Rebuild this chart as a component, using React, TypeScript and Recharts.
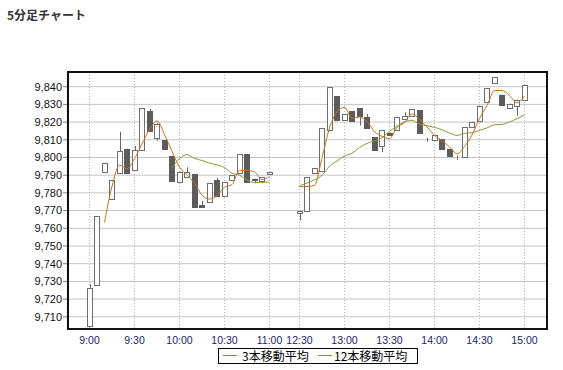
import React from 'react';
import { ComposedChart, Bar, Line, XAxis, YAxis, CartesianGrid } from 'recharts';

// slot index of each 5-minute bar (25-27 = lunch gap)
const slots: number[] = Array.from({ length: 59 }, (_, k) => k);

const opens: (number | null)[] = [
  9705, 9728, 9792, 9776.5, 9791, 9805, 9793, 9804, 9826, 9811,
  9810, 9801, 9786, 9789, 9790.5, 9773, 9775, 9787.5, 9778, 9787,
  9791, 9802, 9788, 9786.5, 9790.5, null, null, null, 9768.5, 9770,
  9791, 9792.5, 9815.5, 9834.7, 9821.2, 9826, 9828, 9823, 9811.4, 9806.5,
  9814, 9815.4, 9822, 9823.6, 9826.8, 9811.2, 9810, 9810.4, 9804.8, 9801,
  9800.4, 9817.4, 9820.4, 9831.2, 9842, 9835.5, 9828, 9829, 9832.3,
];
const highs: (number | null)[] = [
  9728.5, 9767, 9797, 9787, 9814.5, 9805, 9806.5, 9828, 9827.5, 9819.5,
  9810, 9801, 9792, 9794.5, 9790.5, 9775.5, 9785.5, 9788.5, 9786, 9790,
  9802, 9802, 9788, 9788.8, 9791.8, null, null, null, 9770, 9789,
  9794, 9816.5, 9839.7, 9834.7, 9824.6, 9826, 9828, 9824.5, 9811.4, 9815.5,
  9814, 9823, 9825.5, 9827.2, 9826.8, 9811.2, 9812.7, 9810.4, 9804.8, 9801,
  9817, 9820.2, 9829, 9839, 9845.3, 9835.5, 9830.4, 9832.7, 9840.8,
];
const lows: (number | null)[] = [
  9705, 9728, 9792, 9776.5, 9791, 9791, 9793, 9804, 9815, 9809.5,
  9805, 9786.5, 9786, 9789, 9772, 9772, 9775, 9778, 9778, 9787,
  9791, 9786, 9785.5, 9785.5, 9790.5, null, null, null, 9764.5, 9770,
  9791, 9792.5, 9815.5, 9821, 9821.2, 9820.6, 9818, 9816.4, 9804, 9803,
  9812.5, 9815.4, 9822, 9823.6, 9813.6, 9809, 9810, 9804.8, 9800.6, 9798.6,
  9800.4, 9817.4, 9820.4, 9831.2, 9842, 9829.5, 9828, 9823.6, 9832.3,
];
const closes: (number | null)[] = [
  9726, 9767, 9797, 9787, 9803.5, 9791, 9804, 9828, 9815, 9819,
  9805, 9786.5, 9792, 9792, 9772, 9772, 9785.5, 9778, 9786, 9790,
  9802, 9786, 9787.3, 9788.8, 9791.8, null, null, null, 9770, 9789,
  9794, 9816.5, 9839.7, 9821, 9824.6, 9820.6, 9823.6, 9816.4, 9804, 9815.5,
  9812.5, 9823, 9823.6, 9827.2, 9813.6, 9811.2, 9812.7, 9804.8, 9800.6, 9801,
  9817, 9820.2, 9829, 9839, 9845.3, 9829.5, 9830.4, 9832.7, 9840.8,
];
const ma3: (number | null)[] = [
  null, null, 9763.3, 9783.7, 9795.7, 9793.7, 9799.3, 9807.7, 9815.7, 9820.7,
  9813, 9803.5, 9794.5, 9790.2, 9785.3, 9778.7, 9776.5, 9778.5, 9783.2, 9784.7,
  9792.7, 9792.7, 9791.8, 9787.4, 9789.3, null, null, null, 9783.5, 9783.6,
  9784.3, 9799.8, 9816.7, 9825.7, 9828.4, 9822.1, 9822.9, 9820.2, 9814.7, 9812,
  9810.7, 9817, 9819.7, 9824.6, 9821.5, 9817.3, 9812.5, 9809.6, 9806, 9802.1,
  9806.2, 9812.7, 9822.1, 9829.4, 9837.8, 9837.9, 9835.1, 9830.9, 9834.6,
];
const ma12: (number | null)[] = [
  null, null, null, null, null, null, null, null, null, null,
  null, 9794.0, 9799.5, 9801.6, 9799.5, 9798.3, 9796.8, 9795.8, 9794.3, 9791.1,
  9790, 9787.3, 9785.8, 9786, 9786, null, null, null, 9784.1, 9785.5,
  9787.4, 9790, 9795.1, 9798, 9800.9, 9802.4, 9805.6, 9808, 9809.3, 9811.2,
  9814.8, 9817.6, 9820.1, 9821, 9818.8, 9818, 9817, 9815.7, 9813.8, 9812.5,
  9813.6, 9814, 9815.3, 9816.7, 9818.5, 9818.7, 9820.1, 9821.9, 9824.2,
];

const xTickSlots: number[] = [0, 6, 12, 18, 24, 28, 34, 40, 46, 52, 58];
const xTickLabels: string[] = ['9:00', '9:30', '10:00', '10:30', '11:00', '12:30', '13:00', '13:30', '14:00', '14:30', '15:00'];
const yTicks: number[] = [9710, 9720, 9730, 9740, 9750, 9760, 9770, 9780, 9790, 9800, 9810, 9820, 9830, 9840];

const seriesNames = ['3本移動平均', '12本移動平均'];
const MA3_COLOR = '#c8701e';
const MA12_COLOR = '#8a9a30';

const data = slots.map((s, k) => ({
  i: s,
  open: opens[k],
  high: highs[k],
  low: lows[k],
  close: closes[k],
  range: lows[k] != null && highs[k] != null ? [lows[k], highs[k]] : null,
  ma3: ma3[k],
  ma12: ma12[k],
}));

const Candle = (props: any) => {
  const { x, y, width, height, payload } = props;
  if (!payload || payload.open == null) return null;
  const { open, close, high, low } = payload;
  const span = high - low;
  const py = (v: number) => (span > 0 ? y + ((high - v) / span) * height : y);
  const cx = Math.round(x + width / 2) + 0.5;
  const up = close >= open;
  const top = Math.round(py(Math.max(open, close))) + 0.5;
  const bot = Math.round(py(Math.min(open, close))) + 0.5;
  const bx = Math.round(x) + 0.5;
  return (
    <g>
      <line x1={cx} x2={cx} y1={y} y2={y + height} stroke="#666" strokeWidth={1} />
      <rect
        x={bx}
        y={top}
        width={width - 1}
        height={Math.max(bot - top, 0)}
        fill={up ? '#ffffff' : '#5c5c5c'}
        stroke={up ? '#6e6e6e' : '#5c5c5c'}
        strokeWidth={1}
      />
    </g>
  );
};

export default function App() {
  return (
    <div style={{ position: 'absolute', left: 0, top: 0, width: 563, height: 370, background: '#fff', fontFamily: '"Liberation Sans", Arial, sans-serif' }}>
      <div style={{ position: 'absolute', left: 7, top: 8, fontSize: 12, lineHeight: '14px', fontWeight: 'bold', color: '#333', fontFamily: '"Noto Sans CJK JP", sans-serif' }}>
        5分足チャート
      </div>
      <ComposedChart width={563} height={370} data={data} margin={{ top: 72, right: 16, bottom: 21, left: 8 }}>
        <CartesianGrid vertical={false} stroke="#c4c4c4" />
        <CartesianGrid horizontal={false} stroke="#b4b4b4" strokeDasharray="1 2" />
        <XAxis
          type="number"
          dataKey="i"
          domain={[-3, 61]}
          ticks={xTickSlots}
          interval={0}
          tickFormatter={(v: number) => xTickLabels[xTickSlots.indexOf(v)] ?? ''}
          axisLine={false}
          tickLine={false}
          tickSize={6}
          tickMargin={2}
          height={20}
          tick={{ fill: '#1c1c6c', fontSize: 10.5 }}
          allowDataOverflow
        />
        <YAxis
          type="number"
          domain={[9703.1, 9848.3]}
          ticks={yTicks}
          interval={0}
          tickFormatter={(v: number) => v.toLocaleString('en-US')}
          axisLine={false}
          tickLine={{ stroke: '#808080' }}
          tickSize={4}
          tickMargin={1}
          width={59}
          tick={{ fill: '#111', fontSize: 11 }}
          allowDataOverflow
        />
        <Bar dataKey="range" barSize={6} shape={<Candle />} isAnimationActive={false} />
        <Line type="monotone" dataKey="ma12" stroke={MA12_COLOR} strokeWidth={1} dot={false} activeDot={false} isAnimationActive={false} />
        <Line type="monotone" dataKey="ma3" stroke={MA3_COLOR} strokeWidth={1} dot={false} activeDot={false} isAnimationActive={false} />
      </ComposedChart>
      <div style={{ position: 'absolute', left: 67, top: 71, width: 481, height: 259, boxSizing: 'border-box', border: '2px solid #111', pointerEvents: 'none' }} />
      <div style={{ position: 'absolute', left: 218, top: 348, width: 200, height: 16, boxSizing: 'border-box', border: '1px solid #000', background: '#fff', fontFamily: '"Noto Sans CJK JP", sans-serif', fontSize: 12, color: '#000' }}>
        <div style={{ position: 'absolute', left: 4, top: 6, width: 14, height: 0, borderTop: `1px solid ${MA3_COLOR}` }} />
        <div style={{ position: 'absolute', left: 23, top: -1, lineHeight: '15px', whiteSpace: 'nowrap' }}>{seriesNames[0]}</div>
        <div style={{ position: 'absolute', left: 99, top: 6, width: 14, height: 0, borderTop: `1px solid ${MA12_COLOR}` }} />
        <div style={{ position: 'absolute', left: 115, top: -1, lineHeight: '15px', whiteSpace: 'nowrap' }}>{seriesNames[1]}</div>
      </div>
    </div>
  );
}
